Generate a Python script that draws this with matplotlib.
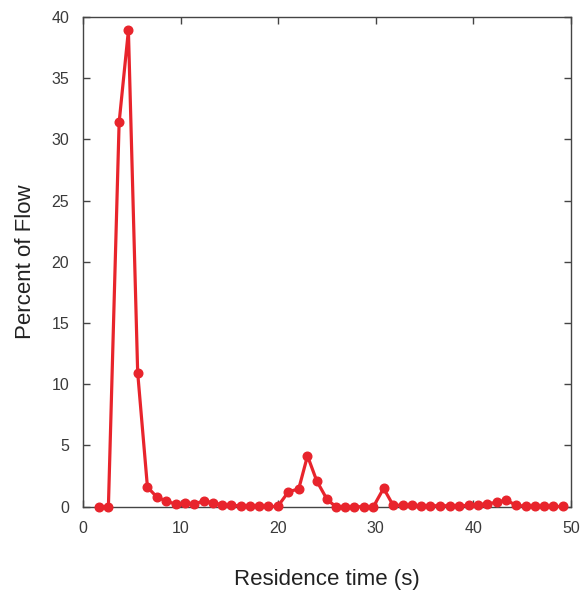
import matplotlib
matplotlib.use("Agg")
import matplotlib.pyplot as plt

residence_time = [1.6, 2.6, 3.7, 4.65, 5.6, 6.6, 7.55, 8.5, 9.5, 10.45,
                  11.4, 12.35, 13.3, 14.25, 15.2, 16.15, 17.1, 18.0, 18.95, 19.95,
                  21.05, 22.1, 23.0, 23.95, 25.0, 25.9, 26.85, 27.8, 28.75, 29.75,
                  30.8, 31.75, 32.75, 33.7, 34.65, 35.6, 36.6, 37.6, 38.5, 39.5,
                  40.5, 41.4, 42.45, 43.35, 44.4, 45.35, 46.3, 47.25, 48.2, 49.15]

# Percent of flow in each bin
percent_flow = [0.0, 0.0, 31.4, 38.9, 10.95, 1.6, 0.8, 0.47, 0.2, 0.33,
                0.22, 0.47, 0.33, 0.15, 0.1, 0.08, 0.06, 0.04, 0.02, 0.02,
                1.22, 1.45, 4.15, 2.1, 0.6, 0.0, 0.0, 0.0, 0.0, 0.0,
                1.5, 0.15, 0.1, 0.1, 0.08, 0.08, 0.08, 0.08, 0.08, 0.1,
                0.15, 0.25, 0.35, 0.55, 0.1, 0.05, 0.02, 0.02, 0.02, 0.02]

RED = "#e8242c"
GREY_TEXT = "#3a3a3a"

plt.rcParams["font.family"] = ["Liberation Sans", "DejaVu Sans"]

fig = plt.figure(figsize=(5.81, 5.90), dpi=100)
ax = fig.add_axes([0.1429, 0.1412, 0.8399, 0.83])

ax.plot(residence_time, percent_flow, color=RED, linewidth=2.3,
        marker="o", markersize=6.2, markerfacecolor=RED,
        markeredgecolor=RED, clip_on=False, zorder=3)

ax.set_xlim(0, 50)
ax.set_ylim(0, 40)
ax.set_xticks(range(0, 51, 10))
ax.set_yticks(range(0, 41, 5))

ax.tick_params(direction="in", top=True, right=True, length=5, width=1,
               color="#444444", labelsize=11.5, labelcolor=GREY_TEXT, pad=10)
for spine in ax.spines.values():
    spine.set_color("#444444")
    spine.set_linewidth(1.0)

ax.set_xlabel("Residence time (s)", fontsize=16, color="#222222", labelpad=24)
ax.set_ylabel("Percent of Flow", fontsize=16, color="#222222", labelpad=11)

fig.savefig("out.png", dpi=100)
